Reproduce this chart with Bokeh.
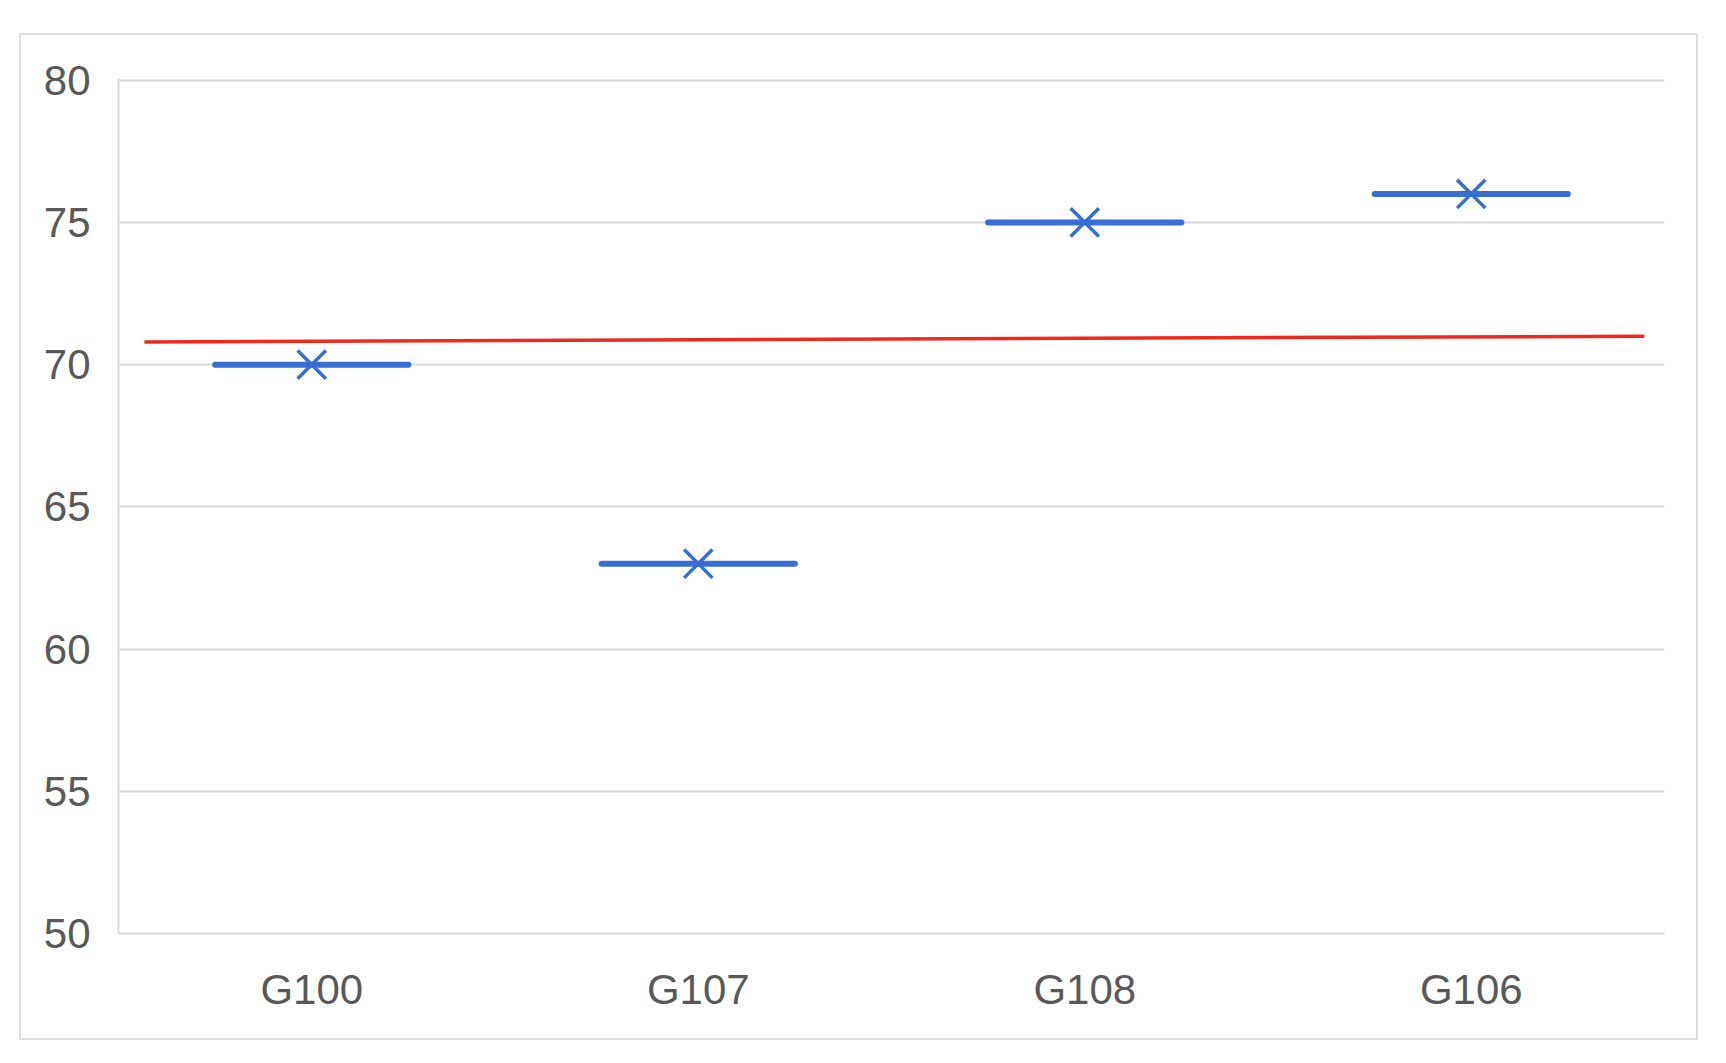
from bokeh.plotting import figure
from bokeh.models import ColumnDataSource, FactorRange, Range1d, FixedTicker
from bokeh.transform import dodge
from bokeh.embed import file_html
from bokeh.resources import INLINE

categories = ["G100", "G107", "G108", "G106"]
values = [70, 63, 75, 76]
ref_start = 70.8
ref_end = 71.0
y_ticks = [50, 55, 60, 65, 70, 75, 80]

p = figure(x_range=FactorRange(*categories, range_padding=0), y_range=Range1d(50, 80.06),
           width=1675, height=1003, output_backend="svg", toolbar_location=None,
           min_border_left=97, min_border_top=43, min_border_right=32, min_border_bottom=105)
p.margin = (35, 0, 0, 21)
p.styles = {"outline": "2px solid #dedede"}
p.outline_line_color = None

src = ColumnDataSource(dict(cat=categories, val=values))
p.segment(x0=dodge("cat", -0.25, range=p.x_range), x1=dodge("cat", 0.25, range=p.x_range),
          y0="val", y1="val", source=src, line_color="#3a6dd0", line_width=6, line_cap="round")
p.scatter(x="cat", y="val", source=src, marker="x", size=40, line_color="#3a6dd0", line_width=3.5)

ref = ColumnDataSource(dict(c0=[categories[0]], c1=[categories[-1]], v0=[ref_start], v1=[ref_end]))
p.segment(x0=dodge("c0", -0.433, range=p.x_range), x1=dodge("c1", 0.448, range=p.x_range),
          y0="v0", y1="v1", source=ref, line_color="#ec2a1f", line_width=3.5)

p.xgrid.grid_line_color = None
p.ygrid.grid_line_color = "#d9d9d9"
p.ygrid.grid_line_width = 2
p.yaxis.ticker = FixedTicker(ticks=y_ticks)

for ax in (p.xaxis[0], p.yaxis[0]):
    ax.axis_line_color = "#d9d9d9"
    ax.axis_line_width = 2
    ax.major_tick_line_color = None
    ax.minor_tick_line_color = None
    ax.major_tick_out = 0
    ax.major_tick_in = 0
    ax.major_label_text_font = "Liberation Sans"
    ax.major_label_text_font_size = "42px"
    ax.major_label_text_color = "#595959"
p.yaxis.major_label_standoff = 28
p.xaxis.major_label_standoff = 32

open("out.html", "w").write(file_html(p, INLINE))
